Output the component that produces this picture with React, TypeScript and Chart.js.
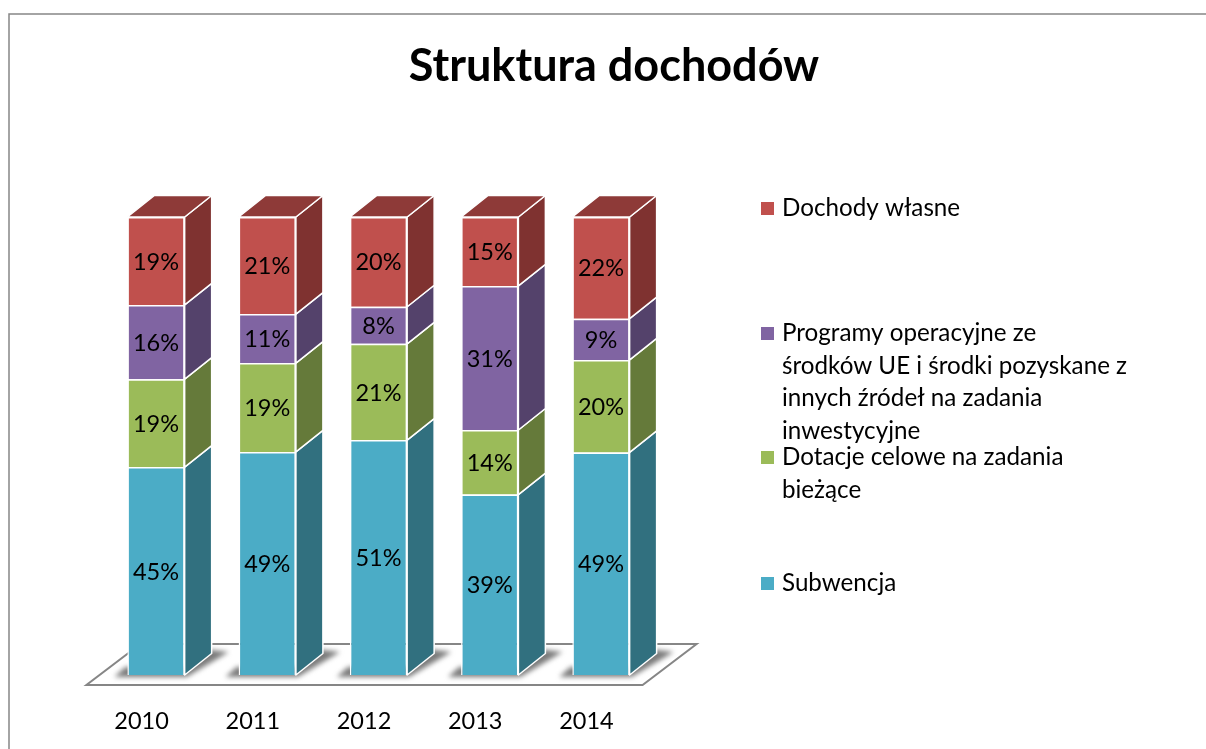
import React, { useEffect, useRef } from "react";
import { Chart, registerables } from "chart.js";

Chart.register(...registerables);

const years = ["2010", "2011", "2012", "2013", "2014"];
const subwencja = [45.4, 48.7, 51.3, 39.4, 48.6];
const dotacje = [19.2, 19.4, 21.0, 14.1, 20.2];
const programy = [16.2, 10.7, 8.1, 31.45, 9.0];
const dochodyWlasne = [19.2, 21.2, 19.6, 15.05, 22.2];

const seriesNames = [
  "Subwencja",
  "Dotacje celowe na zadania bieżące",
  "Programy operacyjne ze środków UE i środki pozyskane z innych źródeł na zadania inwestycyjne",
  "Dochody własne",
];
const legendLines = [
  ["Dochody własne"],
  ["Programy operacyjne ze", "środków UE i środki pozyskane z", "innych źródeł na zadania", "inwestycyjne"],
  ["Dotacje celowe na zadania", "bieżące"],
  ["Subwencja"],
];

const BLUE = "#4BACC6";
const GREEN = "#9BBB59";
const PURPLE = "#8064A2";
const RED = "#C0504D";
const legendColors = [RED, PURPLE, GREEN, BLUE];
const legendRowY = [208, 333, 457, 583];
const sideColors: Record<string, string> = { [BLUE]: "#31707F", [GREEN]: "#657A3A", [PURPLE]: "#54426B", [RED]: "#7F3230" };
const topColors: Record<string, string> = { [RED]: "#8E3A38" };

const FONT = "Lato";
const DX = 27;
const DY = -21.5;
const GRAY = "#868686";

function poly(ctx: CanvasRenderingContext2D, pts: number[][]) {
  ctx.beginPath();
  pts.forEach((p, i) => (i ? ctx.lineTo(p[0], p[1]) : ctx.moveTo(p[0], p[1])));
  ctx.closePath();
}

const decor = {
  id: "decor",
  afterLayout(chart: any) {
    const t = chart.titleBlock;
    t.left = 0;
    t.right = 1228;
  },
  beforeDraw(chart: any) {
    const { ctx, width, height } = chart;
    ctx.save();
    ctx.fillStyle = "#fff";
    ctx.fillRect(0, 0, width, height);
    ctx.strokeStyle = GRAY;
    ctx.lineWidth = 1.5;
    ctx.beginPath();
    ctx.moveTo(9, height);
    ctx.lineTo(9, 14);
    ctx.lineTo(width, 14);
    ctx.stroke();
    ctx.restore();
  },
  beforeDatasetsDraw(chart: any) {
    const { ctx, chartArea } = chart;
    const b = chartArea.bottom;
    const l = chartArea.left;
    const r = chartArea.right;
    ctx.save();
    poly(ctx, [[l - 14, b + 10], [r - 14, b + 10], [r + 40, b - 31], [l + 40, b - 31]]);
    ctx.fillStyle = "#fff";
    ctx.fill();
    ctx.strokeStyle = GRAY;
    ctx.lineWidth = 2;
    ctx.stroke();
    const base = chart.getDatasetMeta(0).data;
    ctx.filter = "blur(2.5px)";
    ctx.fillStyle = "rgba(100,100,100,0.85)";
    base.forEach((el: any) => {
      const L = el.x - el.width / 2;
      const R = el.x + el.width / 2;
      poly(ctx, [[L - 13, b + 2], [R + 2, b + 2], [R + 44, b - 23], [R + 20, b - 26], [R, b - 8], [L - 2, b - 8]]);
      ctx.fill();
    });
    ctx.restore();
  },
  afterDatasetsDraw(chart: any) {
    const { ctx } = chart;
    ctx.save();
    ctx.lineWidth = 1.5;
    ctx.lineJoin = "round";
    ctx.strokeStyle = "#fff";
    chart.data.datasets.forEach((ds: any, di: number) => {
      chart.getDatasetMeta(di).data.forEach((el: any, i: number) => {
        const L = el.x - el.width / 2;
        const R = el.x + el.width / 2;
        const T = el.y;
        const B = el.base;
        poly(ctx, [[R, T], [R + DX, T + DY], [R + DX, B + DY], [R, B]]);
        ctx.fillStyle = sideColors[ds.backgroundColor];
        ctx.fill();
        ctx.stroke();
        if (di === chart.data.datasets.length - 1) {
          poly(ctx, [[L, T], [L + DX, T + DY], [R + DX, T + DY], [R, T]]);
          ctx.fillStyle = topColors[ds.backgroundColor];
          ctx.fill();
          ctx.stroke();
        }
        ctx.fillStyle = "#000";
        ctx.font = `23.5px ${FONT}`;
        ctx.textAlign = "center";
        ctx.textBaseline = "middle";
        ctx.fillText(`${Math.round(ds.data[i])}%`, el.x, (T + B) / 2 + 1);
      });
    });
    ctx.font = `24.2px ${FONT}`;
    ctx.textAlign = "left";
    ctx.textBaseline = "middle";
    legendLines.forEach((lines, i) => {
      const y = legendRowY[i];
      ctx.fillStyle = legendColors[i];
      ctx.fillRect(761, y - 6, 13, 13);
      ctx.fillStyle = "#000";
      lines.forEach((line, j) => ctx.fillText(line, 782, y + j * 32.7));
    });
    ctx.restore();
  },
};

export default function App() {
  const ref = useRef<HTMLCanvasElement>(null);
  useEffect(() => {
    const mk = (label: string, data: number[], color: string) => ({
      label,
      data,
      backgroundColor: color,
      borderColor: "#fff",
      borderWidth: 1.5,
      barPercentage: 0.515,
      categoryPercentage: 1,
    });
    const chart = new Chart(ref.current!, {
      type: "bar",
      data: {
        labels: years,
        datasets: [
          mk(seriesNames[0], subwencja, BLUE),
          mk(seriesNames[1], dotacje, GREEN),
          mk(seriesNames[2], programy, PURPLE),
          mk(seriesNames[3], dochodyWlasne, RED),
        ],
      },
      options: {
        animation: false,
        responsive: false,
        layout: { padding: { left: 100.4, right: 549.4, top: 0, bottom: 0 } },
        plugins: {
          legend: { display: false },
          tooltip: { enabled: false },
          title: {
            display: true,
            text: "Struktura dochodów",
            color: "#000",
            font: { family: FONT, size: 45, weight: "bold", lineHeight: 1.2 },
            padding: { top: 39, bottom: 124 },
          },
        },
        scales: {
          x: {
            stacked: true,
            grid: { display: false, drawTicks: false },
            border: { display: false },
            ticks: {
              color: "#000",
              font: { family: FONT, size: 23.5 },
              padding: 32,
              labelOffset: -14.5,
              maxRotation: 0,
              autoSkip: false,
            },
            afterFit: (s: any) => {
              s.height = 74;
            },
          },
          y: { stacked: true, display: false, min: 0, max: 100 },
        },
      },
      plugins: [decor],
    } as any);
    return () => chart.destroy();
  }, []);
  return <canvas ref={ref} width={1206} height={749} style={{ position: "fixed", left: 0, top: 0, display: "block" }} />;
}
